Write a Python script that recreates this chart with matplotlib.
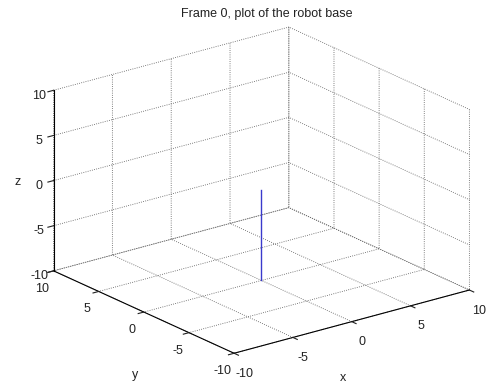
import numpy as np
import matplotlib
matplotlib.use('Agg')
import matplotlib.pyplot as plt

plt.rcParams['font.family'] = ['Liberation Sans', 'DejaVu Sans']
plt.rcParams['axes.unicode_minus'] = False

# robot base: a single vertical segment at the origin
base_x = [0, 0]
base_y = [0, 0]
base_z = [-10, 0]
ticks = [-10, -5, 0, 5, 10]

W, H = 491, 383
fig = plt.figure(figsize=(W / 100, H / 100), dpi=100)
ax = fig.add_axes([0.022, -0.01, 1.0, 1.0], projection='3d')
ax.set_proj_type('ortho')
# MATLAB default view (az=-37.5) stretched to fill the axes -> lower elevation here
ax.view_init(elev=20.5, azim=-127.5)

ax.plot(base_x, base_y, base_z, color='#3a3acc', lw=1.0)

ax.set_xlim(-10, 10)
ax.set_ylim(-10, 10)
ax.set_zlim(-10, 10)
ax.set_xticks(ticks)
ax.set_yticks(ticks)
ax.set_zticks(ticks)
ax.set_box_aspect((1, 1, 0.65), zoom=1.17)

for axis, pad in ((ax.xaxis, 0), (ax.yaxis, -1), (ax.zaxis, -3)):
    axis.set_pane_color((1, 1, 1, 0))
    axis.pane.set_edgecolor('none')
    axis._axinfo['grid'].update(color='#555555', linestyle=':', linewidth=0.6)
    axis._axinfo['tick']['inward_factor'] = 0.3
    axis._axinfo['tick']['outward_factor'] = 0.0
    axis.line.set_color('black')
    axis.line.set_linewidth(0.8)
    axis.set_tick_params(labelsize=9, colors='#222222', pad=pad)

# axis labels sit below the axes like in MATLAB, so place them by hand
fig.text(343 / W, 1 - 378 / H, 'x', fontsize=9, color='#222222', ha='center', va='center')
fig.text(135 / W, 1 - 375 / H, 'y', fontsize=9, color='#222222', ha='center', va='center')
fig.text(18 / W, 1 - 182 / H, 'z', fontsize=9, color='#222222', ha='center', va='center')
fig.text(267 / W, 1 - 13.5 / H, 'Frame 0, plot of the robot base', fontsize=9,
         color='#222222', ha='center', va='center')

fig.savefig('out.png', dpi=100)
